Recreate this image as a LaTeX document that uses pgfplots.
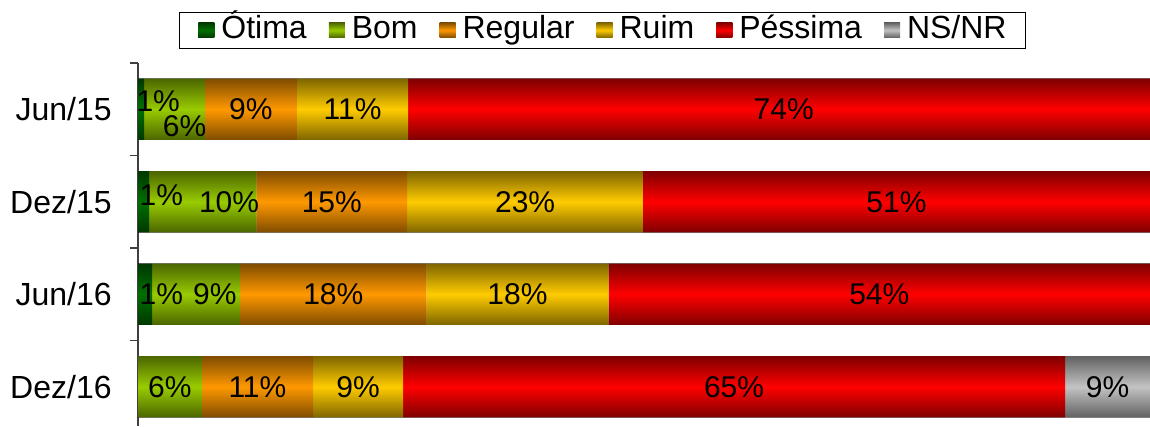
\documentclass[border=0pt]{standalone}
\usepackage{pgfplots}
\pgfplotsset{compat=1.18}
\usepackage{pgfplotstable}
\usepackage{fontspec}
\setmainfont{Liberation Sans}
\definecolor{otm}{HTML}{007000}\definecolor{otd}{HTML}{003800}
\definecolor{bom}{HTML}{99CC00}\definecolor{bod}{HTML}{4D6600}
\definecolor{reg}{HTML}{FF9900}\definecolor{red2}{HTML}{804C00}
\definecolor{rui}{HTML}{FFCC00}\definecolor{rud}{HTML}{806600}
\definecolor{pes}{HTML}{FF0000}\definecolor{ped}{HTML}{800000}
\definecolor{nsm}{HTML}{C4C4C4}\definecolor{nsd}{HTML}{626262}

\pgfplotstableread{
y Otima Bom Regular Ruim Pessima NSNR
0 0   6.3  11.0 8.9  65.4 8.4
1 1.4 8.7  18.4 18.0 53.5 0
2 1.1 10.6 14.9 23.3 50.1 0
3 0.6 6.0  9.1  11.0 73.3 0
}\data

\pgfplotstableread{
x y lab
2.0 3.086 1
4.6 2.82 6
11.15 3 9
21.2 3 11
63.8 3 74
2.3 2.07 1
9.0 2 10
19.15 2 15
38.25 2 23
74.95 2 51
2.3 1 1
7.6 1 9
19.3 1 18
37.5 1 18
73.25 1 54
3.15 0 6
11.8 0 11
21.75 0 9
58.9 0 65
95.8 0 9
}\labels

\pgfplotsset{
  gradleg/.style n args={2}{legend image code/.code={%
    \path[top color=#1, bottom color=#1, middle color=#2] (0pt,-3.75pt) rectangle (8pt,3.75pt);}},
}

\begin{document}
\begin{tikzpicture}
\begin{axis}[
  at={(0,0)}, anchor=south west,
  scale only axis, width=506pt, height=181.3pt,
  xbar stacked, bar width=0.66,
  xmin=0, xmax=100, ymin=-0.42, ymax=3.5,
  hide x axis,
  axis y line*=left,
  y axis line style={black!75, line width=0.6pt},
  ytick={0,1,2,3}, yticklabels={Dez/16,Jun/16,Dez/15,Jun/15},
  minor ytick={0.5,1.5,2.5,3.5},
  major tick length=0pt, minor tick length=4pt, tick align=outside,
  every minor tick/.append style={black!75, line width=0.6pt},
  yticklabel style={font=\fontsize{16}{19}\selectfont, inner sep=0pt, xshift=-13pt},
  legend columns=6,
  legend style={at={(0.459,1.041)}, anchor=south, draw=black, line width=0.6pt,
    outer sep=0pt,
    font=\fontsize{16}{19}\selectfont, inner xsep=9.5pt, inner ysep=1.5pt,
    nodes={inner xsep=0pt, inner ysep=0pt, text height=11.5pt, text depth=3.5pt},
    /tikz/every odd column/.append style={column sep=3.5pt},
    /tikz/every even column/.append style={column sep=11pt}},
]
\addplot[draw=none, fill=otm, gradleg={otd}{otm}] table[x=Otima, y=y]{\data};
\addlegendentry{Ótima}
\addplot[draw=none, fill=bom, gradleg={bod}{bom}] table[x=Bom, y=y]{\data};
\addlegendentry{Bom}
\addplot[draw=none, fill=reg, gradleg={red2}{reg}] table[x=Regular, y=y]{\data};
\addlegendentry{Regular}
\addplot[draw=none, fill=rui, gradleg={rud}{rui}] table[x=Ruim, y=y]{\data};
\addlegendentry{Ruim}
\addplot[draw=none, fill=pes, gradleg={ped}{pes}] table[x=Pessima, y=y]{\data};
\addlegendentry{Péssima}
\addplot[draw=none, fill=nsm, gradleg={nsd}{nsm}] table[x=NSNR, y=y]{\data};
\addlegendentry{NS/NR}
\end{axis}
\begin{axis}[
  at={(0,0)}, anchor=south west,
  scale only axis, width=506pt, height=181.3pt,
  xmin=0, xmax=100, ymin=-0.42, ymax=3.5,
  hide axis, clip=false,
]
\pgfplotsinvokeforeach{0,1,2,3}{
  \addplot[xbar, bar width=0.66, draw=none, blend mode=multiply,
    top color=black!50, bottom color=black!50, middle color=white] coordinates {(100,#1)};
}
\addplot[only marks, mark=none, point meta=explicit symbolic,
  nodes near coords={\pgfplotspointmeta\%},
  every node near coord/.append style={anchor=center, inner sep=0pt, text=black, font=\fontsize{15}{18}\selectfont}]
  table[x=x, y=y, meta=lab]{\labels};
\end{axis}
\path (current axis.south west) ++(-69pt,0);
\path (current axis.north east) ++(0,31.5pt);
\end{tikzpicture}
\end{document}
